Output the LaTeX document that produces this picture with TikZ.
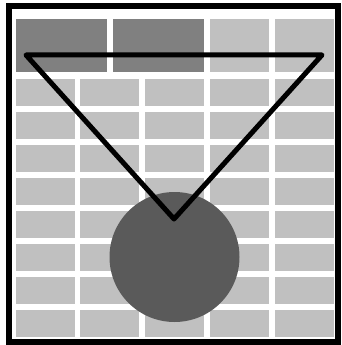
\documentclass[tikz,border=0pt]{standalone}
\usepackage{xcolor}
\definecolor{pcell}{HTML}{C0C0C0}
\definecolor{phead}{HTML}{808080}
\definecolor{pdisc}{HTML}{5A5A5A}
\tikzset{
  % Flat grey tile, no stroke.
  cell/.style    = {fill=#1, draw=none},
  cell/.default  = pcell,
  frame/.style   = {draw=black, line width=6pt},
  wedge/.style   = {draw=black, line width=5pt, line join=round},
  disc/.style    = {fill=pdisc, draw=none},
}

\begin{document}
\begin{tikzpicture}[x=1pt, y=-1pt]
\useasboundingbox (0,0) rectangle (341,345);
% --- outer frame ------------------------------------------------------
\draw[frame] (9,6) rectangle (338,342);

% --- header row -------------------------------------------------------
\fill[cell=phead] (16,19)  rectangle (107,72);
\fill[cell=phead] (113,19) rectangle (204,72);
\foreach \x in {210,275} {\fill[cell] (\x,19) rectangle ++(59,53);}

% --- body grid --------------------------------------------------------
\foreach \x in {16,80,145,210,275}
  \foreach \y in {79,112,...,310} {\fill[cell] (\x,\y) rectangle ++(59,27);}

% --- disc and wedge ---------------------------------------------------
\coordinate (tl)  at (26,55);
\coordinate (tr)  at (322,55);
\coordinate (tip) at (174,219);
\fill[disc] (174.5,257) circle (65pt);
\draw[wedge] (tl) -- (tr) -- (tip) -- cycle;
\end{tikzpicture}
\end{document}
